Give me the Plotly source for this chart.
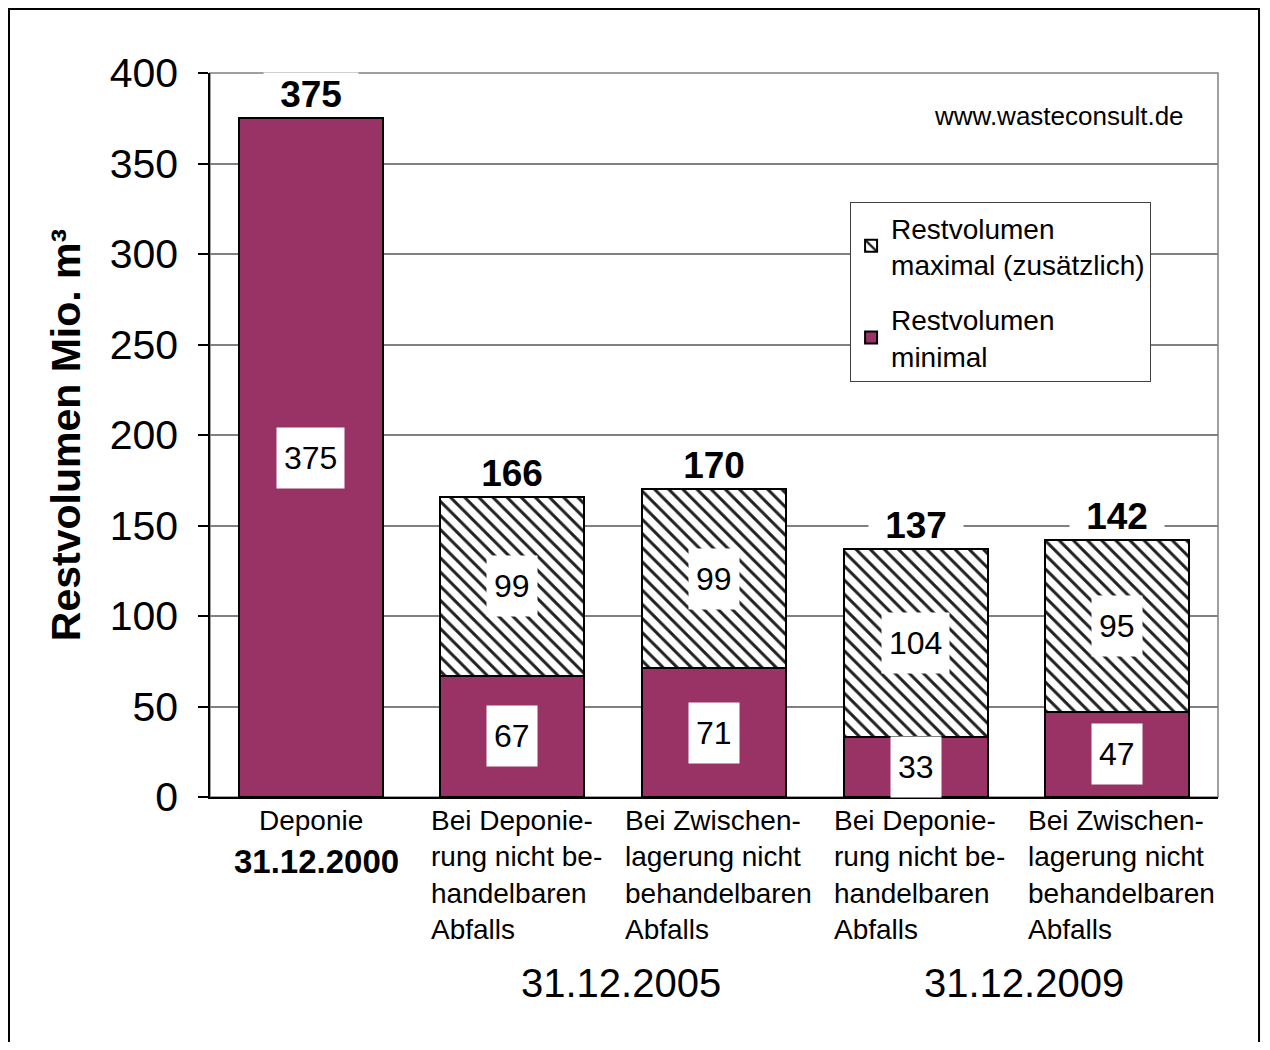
import plotly.graph_objects as go

# ---- data ----
positions = [0, 1, 2, 3, 4]
cat_labels = [
    "Deponie",
    "Bei Deponie-<br>rung nicht be-<br>handelbaren<br>Abfalls",
    "Bei Zwischen-<br>lagerung nicht<br>behandelbaren<br>Abfalls",
    "Bei Deponie-<br>rung nicht be-<br>handelbaren<br>Abfalls",
    "Bei Zwischen-<br>lagerung nicht<br>behandelbaren<br>Abfalls",
]
first_date = "31.12.2000"
group_dates = ["31.12.2005", "31.12.2009"]
group_centers = [1.5, 3.5]
vol_min = [375, 67, 71, 33, 47]
vol_max_extra = [None, 99, 99, 104, 95]
totals = [375, 166, 170, 137, 142]
y_ticks = [0, 50, 100, 150, 200, 250, 300, 350, 400]

FONT = "Liberation Sans, Arial, sans-serif"
PLUM = "#993366"

fig = go.Figure()
fig.add_trace(go.Bar(
    x=positions, y=vol_min, name="Restvolumen<br>minimal", legendgroup="min", legendrank=2,
    marker=dict(color=PLUM, line=dict(color="black", width=2)),
    width=0.714,
))
fig.add_trace(go.Bar(
    x=positions, y=vol_max_extra, name="Restvolumen<br>maximal (zusätzlich)", legendgroup="max",
    legendrank=1,
    marker=dict(color="white", line=dict(color="black", width=2),
                pattern=dict(shape="\\", size=10, solidity=0.3,
                             fgcolor="#202020", bgcolor="white", fillmode="replace")),
    width=0.714,
))

ann = []
# inner value labels
for i, v in enumerate(vol_min):
    ann.append(dict(x=positions[i], y=v / 2, xref="x", yref="y", text=str(v),
                    showarrow=False, bgcolor="white", borderpad=7, height=46,
                    font=dict(size=32, color="black", family=FONT)))
for i, v in enumerate(vol_max_extra):
    if v is None:
        continue
    ann.append(dict(x=positions[i], y=vol_min[i] + v / 2, xref="x", yref="y", text=str(v),
                    showarrow=False, bgcolor="white", borderpad=7, height=46,
                    font=dict(size=32, color="black", family=FONT)))
# totals
for i, t in enumerate(totals):
    ann.append(dict(x=positions[i], y=t, xref="x", yref="y", text="<b>%d</b>" % t,
                    showarrow=False, bgcolor="white", width=92, yanchor="bottom", yshift=1,
                    font=dict(size=37, color="black", family=FONT)))
# category labels
for i, lab in enumerate(cat_labels):
    ann.append(dict(x=positions[i], y=-0.008, xref="x", yref="paper", text=lab,
                    showarrow=False, align="center" if i == 0 else "left",
                    xanchor="center", yanchor="top", xshift=4 if i > 0 else 0,
                    font=dict(size=28, color="black", family=FONT)))
ann.append(dict(x=positions[0], y=-0.061, xref="x", yref="paper", text="<b>%s</b>" % first_date,
                showarrow=False, xanchor="center", yanchor="top", xshift=6,
                font=dict(size=33, color="black", family=FONT)))
for d, c in zip(group_dates, group_centers):
    ann.append(dict(x=c, y=-0.257, xref="x", yref="paper", text=d, showarrow=False,
                    xanchor="center", yanchor="middle", xshift=8,
                    font=dict(size=40, color="black", family=FONT)))
# website
ann.append(dict(x=0.968, y=0.9406, xref="paper", yref="paper", text="www.wasteconsult.de",
                showarrow=False, xanchor="right", yanchor="middle",
                font=dict(size=26, color="black", family=FONT)))

shapes = [
    # plot area frame (gray)
    dict(type="rect", xref="paper", yref="paper", x0=0, x1=1, y0=0, y1=1,
         line=dict(color="#808080", width=1.5), layer="below"),
    # outer border
    dict(type="rect", xref="paper", yref="paper", x0=-0.1994, x1=1.0407, y0=-0.374, y1=1.0884,
         line=dict(color="black", width=2), layer="above"),
]

fig.update_layout(
    width=1262, height=1034,
    margin=dict(l=202, r=52, t=65, b=245),
    paper_bgcolor="white", plot_bgcolor="white",
    barmode="stack", bargap=0.286,
    font=dict(family=FONT, color="black"),
    showlegend=True,
    legend=dict(x=0.635, y=0.822, xanchor="left", yanchor="top",
                bordercolor="#404040", borderwidth=1, bgcolor="white",
                traceorder="grouped", tracegroupgap=16,
                font=dict(size=28, color="black", family=FONT),
                itemsizing="constant"),
    annotations=ann,
    shapes=shapes,
)
fig.update_xaxes(range=[-0.5, 4.5], showticklabels=False, showgrid=False, zeroline=False,
                 showline=True, linecolor="black", linewidth=2, ticks="")
fig.update_yaxes(range=[0, 400], tickvals=y_ticks, ticks="outside", ticklen=10, tickwidth=1.5,
                 tickcolor="black", showline=True, linecolor="black", linewidth=1.5,
                 showgrid=True, gridcolor="#808080", gridwidth=1.5, zeroline=False,
                 tickfont=dict(size=41, color="black", family=FONT), ticklabelstandoff=12,
                 title=dict(text="<b>Restvolumen Mio. m³</b>", standoff=16,
                            font=dict(size=41, color="black", family=FONT)))

fig.write_html("out.html")
